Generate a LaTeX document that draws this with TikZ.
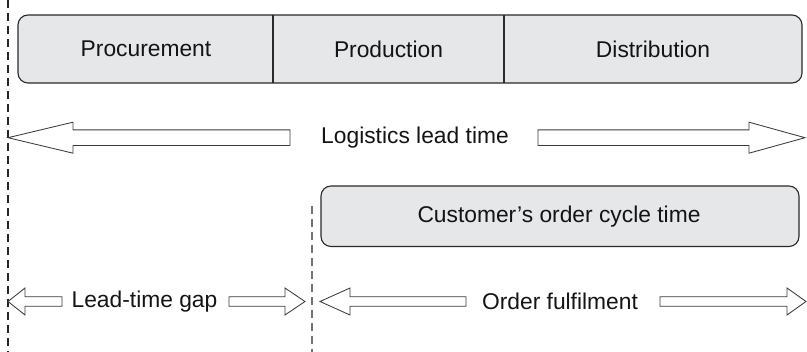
\documentclass[tikz,border=0pt]{standalone}
\usepackage{fontspec}
\setmainfont{Liberation Sans}
\begin{document}
\begin{tikzpicture}[x=1pt,y=-1pt,
  boxst/.style={draw=boxline,fill=boxfill,line width=1.1pt,rounded corners=10pt},
  lbl/.style={inner sep=0pt,font=\fontsize{22.8}{26}\selectfont,text=black!92},
  arrowst/.style={draw=arrline,fill=white,line width=0.85pt,line join=miter},
  dashst/.style={dash pattern=on 8pt off 5pt,line width=1.1pt}]
\definecolor{boxfill}{HTML}{E6E7E9}
\definecolor{boxline}{HTML}{2A2A2A}
\definecolor{arrline}{HTML}{3C3C3C}
\useasboundingbox (0,0) rectangle (807,352);
% dashed guide lines
\coordinate (d1t) at (8,0);
\coordinate (d1b) at (8,352);
\coordinate (d2t) at (312,206);
\coordinate (d2b) at (312,352);
\draw[dashst,draw=black!85] (d1t) -- (d1b);
\draw[dashst,draw=black!55] (d2t) -- (d2b);
% top box
\draw[boxst] (18,15) rectangle (802,83);
\coordinate (v1t) at (273,15); \coordinate (v1b) at (273,83);
\coordinate (v2t) at (504,15); \coordinate (v2b) at (504,83);
\draw[draw=boxline,line width=1.1pt] (v1t) -- (v1b) (v2t) -- (v2b);
\node[lbl] (proc) at (146,49) {Procurement};
\node[lbl] (prod) at (388.5,49) {Production};
\node[lbl] (dist) at (653,49) {Distribution};
% logistics lead time
\def\cy{137.7}
\draw[arrowst] (8,\cy) -- (73,\cy-15.5) -- (73,\cy-7.8) -- (290,\cy-7.8) -- (290,\cy+7.8) -- (73,\cy+7.8) -- (73,\cy+15.5) -- cycle;
\draw[arrowst] (805,\cy) -- (749,\cy-15.5) -- (749,\cy-7.8) -- (538,\cy-7.8) -- (538,\cy+7.8) -- (749,\cy+7.8) -- (749,\cy+15.5) -- cycle;
\node[lbl] (llt) at (415,\cy) {Logistics lead time};
% customer's order cycle time
\draw[boxst] (321,186) rectangle (799,246.5);
\node[lbl] (coct) at (559,216.5) {Customer’s order cycle time};
% bottom arrows
\def\by{301.5}
\draw[arrowst] (8,\by) -- (25,\by-13.5) -- (25,\by-4.8) -- (62,\by-4.8) -- (62,\by+4.8) -- (25,\by+4.8) -- (25,\by+13.5) -- cycle;
\draw[arrowst] (305,\by) -- (285,\by-13.5) -- (285,\by-4.8) -- (229,\by-4.8) -- (229,\by+4.8) -- (285,\by+4.8) -- (285,\by+13.5) -- cycle;
\node[lbl] (ltg) at (144.5,\by) {Lead-time gap};
\draw[arrowst] (320,\by) -- (350,\by-13.5) -- (350,\by-4.8) -- (466,\by-4.8) -- (466,\by+4.8) -- (350,\by+4.8) -- (350,\by+13.5) -- cycle;
\draw[arrowst] (806,\by) -- (787,\by-13.5) -- (787,\by-4.8) -- (660,\by-4.8) -- (660,\by+4.8) -- (787,\by+4.8) -- (787,\by+13.5) -- cycle;
\node[lbl] (of) at (560,\by) {Order fulfilment};
\end{tikzpicture}
\end{document}
